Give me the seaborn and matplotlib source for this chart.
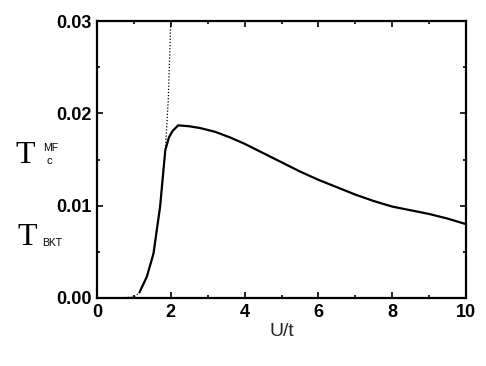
import numpy as np
import pandas as pd
import matplotlib
matplotlib.use("Agg")
import matplotlib.pyplot as plt
import seaborn as sns

# T_BKT (solid line)
u_bkt = [1.15, 1.35, 1.53, 1.71, 1.85, 1.95, 2.05, 2.2, 2.5, 2.8, 3.2, 3.6, 4.0, 4.5, 5.0, 5.5, 6.0, 6.5, 7.0, 7.5, 8.0, 8.5, 9.0, 9.5, 10.0]
t_bkt = [0.0006, 0.0023, 0.0048, 0.0099, 0.0160, 0.0174, 0.0181, 0.0187, 0.0186, 0.0184, 0.0180, 0.0174, 0.0167, 0.0157, 0.0147, 0.0137, 0.0128, 0.0120, 0.0112, 0.0105, 0.0099, 0.0095, 0.0091, 0.0086, 0.0080]

# T_c^MF (dotted line)
u_mf = [0.0, 0.5, 1.0, 1.15, 1.35, 1.53, 1.71, 1.85, 1.93, 1.98, 2.0]
t_mf = [0.0, 0.0, 0.0001, 0.0006, 0.0023, 0.0048, 0.0099, 0.0160, 0.0214, 0.0276, 0.0300]

sns.set_style("ticks")
plt.rcParams['font.family'] = ['Liberation Sans', 'DejaVu Sans']

fig = plt.figure(figsize=(4.86, 3.66), dpi=100)
ax = fig.add_axes([0.1996, 0.1858, 0.7593, 0.7568])

df_bkt = pd.DataFrame({'U': u_bkt, 'T': t_bkt})
df_mf = pd.DataFrame({'U': u_mf, 'T': t_mf})
sns.lineplot(data=df_mf, x='U', y='T', ax=ax, color='black', lw=0.9, linestyle=(0, (1, 1.5)))
sns.lineplot(data=df_bkt, x='U', y='T', ax=ax, color='black', lw=1.6)

ax.set_xlim(0, 10)
ax.set_ylim(0, 0.03)
ax.set_xticks([0, 2, 4, 6, 8, 10])
ax.set_xticks([1, 3, 5, 7, 9], minor=True)
ax.set_yticks([0.0, 0.01, 0.02, 0.03])
ax.set_yticklabels(['0.00', '0.01', '0.02', '0.03'])
ax.set_yticks([0.005, 0.015, 0.025], minor=True)
ax.tick_params(which='both', direction='in', top=True, right=True, width=1.2, colors='black')
ax.tick_params(which='major', length=4, labelsize=13, pad=4)
ax.tick_params(which='minor', length=2.5)
for lab in ax.get_xticklabels() + ax.get_yticklabels():
    lab.set_fontweight('bold')
for sp in ax.spines.values():
    sp.set_linewidth(1.6)
    sp.set_color('black')

ax.set_xlabel('U/t', fontsize=14, labelpad=2)
ax.set_ylabel('')

# T labels on the left
fig.text(15 / 486, 1 - 163 / 366, 'T', fontsize=23, family='Liberation Serif', color='black')
fig.text(43 / 486, 1 - 151 / 366, 'MF', fontsize=7.5, color='black')
fig.text(46 / 486, 1 - 164 / 366, 'c', fontsize=8, color='black')
fig.text(17 / 486, 1 - 245 / 366, 'T', fontsize=23, family='Liberation Serif', color='black')
fig.text(42 / 486, 1 - 246 / 366, 'BKT', fontsize=7.5, color='black')

fig.savefig('out.png', dpi=100)
